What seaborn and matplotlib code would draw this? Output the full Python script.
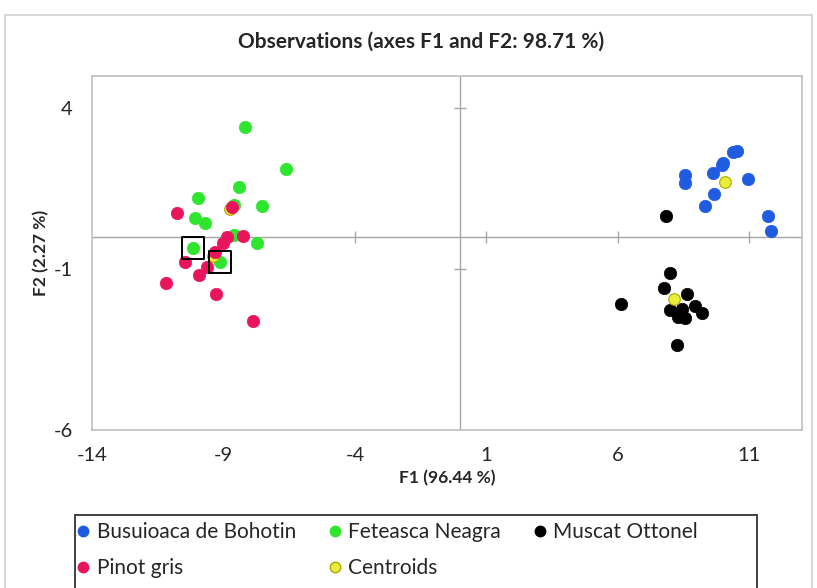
import matplotlib.pyplot as plt
import seaborn as sns
import pandas as pd
from matplotlib.lines import Line2D
from matplotlib.patches import Rectangle

# observations (F1, F2)
bus_f1 = [10.37, 10.52, 9.99, 9.95, 9.61, 8.55, 8.55, 10.94, 9.65, 9.31, 11.70, 11.82]
bus_f2 = [2.64, 2.67, 2.30, 2.24, 1.99, 1.93, 1.68, 1.80, 1.34, 0.96, 0.65, 0.19]

fet_f1 = [-8.18, -6.62, -8.41, -9.97, -7.54, -10.08, -9.70, -8.60, -7.73, -10.16, -9.13, -8.60]
fet_f2 = [3.42, 2.11, 1.55, 1.21, 0.96, 0.59, 0.43, 0.06, -0.19, -0.34, -0.78, 0.99]

mus_f1 = [7.83, 7.98, 7.75, 8.62, 6.11, 7.98, 8.43, 8.93, 9.19, 8.28, 8.55, 8.24]
mus_f2 = [0.65, -1.12, -1.58, -1.77, -2.08, -2.27, -2.24, -2.14, -2.36, -2.48, -2.52, -3.35]

pin_f1 = [-10.77, -8.87, -8.26, -9.02, -9.32, -10.46, -9.63, -9.93, -11.19, -9.29, -7.88, -8.68]
pin_f2 = [0.75, 0.00, 0.03, -0.19, -0.47, -0.78, -0.93, -1.18, -1.43, -1.77, -2.61, 0.93]

cen_f1 = [10.07, -8.75, 8.13, -9.40]
cen_f2 = [1.71, 0.87, -1.93, -0.60]

# the two boxed observations
box_f1 = [-10.16, -9.13]
box_f2 = [-0.34, -0.78]

groups = ["Busuioaca de Bohotin", "Feteasca Neagra", "Muscat Ottonel", "Pinot gris"]
colors = {"Busuioaca de Bohotin": "#1f5ce0", "Feteasca Neagra": "#2ee62e",
          "Muscat Ottonel": "#000000", "Pinot gris": "#e8155c"}
cen_color = "#e8ee3a"

xticks = [-14, -9, -4, 1, 6, 11]
yticks = [-6, -1, 4]

df = pd.DataFrame({
    "F1": bus_f1 + fet_f1 + mus_f1 + pin_f1,
    "F2": bus_f2 + fet_f2 + mus_f2 + pin_f2,
    "group": [groups[0]] * len(bus_f1) + [groups[1]] * len(fet_f1)
             + [groups[2]] * len(mus_f1) + [groups[3]] * len(pin_f1),
})

sns.set_style("white")
plt.rcParams["font.family"] = ["Lato", "DejaVu Sans"]

fig = plt.figure(figsize=(8.17, 5.88), dpi=100)
ax = fig.add_axes([0.1126, 0.2687, 0.8691, 0.6020])

# zero axes, Excel style
ax.axhline(0, color="#a6a6a6", lw=1, zorder=1)
ax.axvline(0, color="#a6a6a6", lw=1, zorder=1)
ax.plot(xticks[1:], [0] * (len(xticks) - 1), ls="none", marker="|", ms=9,
        mew=1, color="#a6a6a6", zorder=1)
ax.plot([0] * (len(yticks) - 1), yticks[1:], ls="none", marker="_", ms=9,
        mew=1, color="#a6a6a6", zorder=1)

for g in groups[:3]:
    sub = df[df.group == g]
    sns.scatterplot(data=sub, x="F1", y="F2", color=colors[g], s=80,
                    edgecolor=colors[g], linewidth=0.5, ax=ax, legend=False, zorder=3)

sns.scatterplot(x=cen_f1, y=cen_f2, color=cen_color, s=70, edgecolor="#a8a800",
                linewidth=0.8, ax=ax, legend=False, zorder=3)

sub = df[df.group == groups[3]]
sns.scatterplot(data=sub, x="F1", y="F2", color=colors[groups[3]], s=80,
                edgecolor=colors[groups[3]], linewidth=0.5, ax=ax, legend=False, zorder=3)

ax.scatter(box_f1, box_f2, marker="s", s=260, facecolor="none",
           edgecolor="black", linewidth=1.4, zorder=4)

ax.set_xlim(-14, 13)
ax.set_ylim(-6, 5)
ax.set_xticks(xticks)
ax.set_yticks(yticks)
ax.set_xticklabels([str(t) for t in xticks])
ax.set_yticklabels([str(t) for t in yticks])
ax.tick_params(length=0, labelsize=14.5, colors="#262626")
ax.tick_params(axis="x", pad=12)
ax.tick_params(axis="y", pad=14)
for s in ax.spines.values():
    s.set_color("#bfbfbf")
    s.set_linewidth(1.2)

ax.set_xlabel("F1 (96.44 %)", fontsize=12.5, fontweight="bold", color="#262626")
ax.set_ylabel("F2 (2.27 %)", fontsize=12.5, fontweight="bold", color="#262626")
ax.xaxis.set_label_coords(0.5, -0.112)
ax.yaxis.set_label_coords(-0.060, 0.5)
fig.suptitle("Observations (axes F1 and F2: 98.71 %)", x=0.515, y=0.9286, va="center",
             fontsize=15, fontweight="bold", color="#262626")

# legend
def dot(c, ec):
    return Line2D([], [], ls="none", marker="o", ms=7.5, color=c, mec=ec)

h = {g: dot(colors[g], colors[g]) for g in groups}
h["Centroids"] = dot(cen_color, "#a8a800")
order = ["Busuioaca de Bohotin", "Pinot gris", "Feteasca Neagra", "Centroids", "Muscat Ottonel"]
fig.legend([h[k] for k in order], order, ncol=3, loc="upper left",
           bbox_to_anchor=(0.0918, 0.1125), fontsize=15, frameon=False,
           handletextpad=0.25, handlelength=0.8, columnspacing=1.45,
           labelspacing=0.79, borderpad=0, borderaxespad=0)

# legend frame
fig.patches.append(Rectangle((0.0918, -0.05), 0.835, 0.1741, transform=fig.transFigure,
                             fill=False, edgecolor="#404040", lw=1.4))

# chart area border
fig.patches.append(Rectangle((0.006, -0.01), 0.988, 0.985, transform=fig.transFigure,
                             fill=False, edgecolor="#d0d0d0", lw=1.2))

fig.savefig("out.png", dpi=100)
